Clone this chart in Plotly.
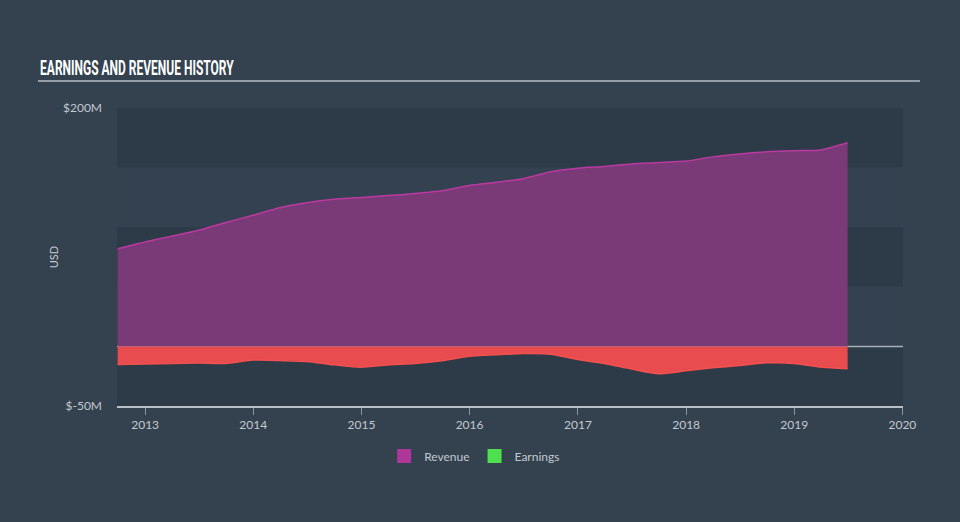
import plotly.graph_objects as go

dates = ["2012-09-30", "2012-12-31", "2013-03-31", "2013-06-30", "2013-09-30", "2013-12-31",
         "2014-03-31", "2014-06-30", "2014-09-30", "2014-12-31", "2015-03-31", "2015-06-30",
         "2015-09-30", "2015-12-31", "2016-03-31", "2016-06-30", "2016-09-30", "2016-12-31",
         "2017-03-31", "2017-06-30", "2017-09-30", "2017-12-31", "2018-03-31", "2018-06-30",
         "2018-09-30", "2018-12-31", "2019-03-31", "2019-06-30"]
revenue = [81.9, 87.6, 92.5, 97.5, 104.0, 110.0, 116.3, 120.5, 123.4, 125.0, 126.5, 128.2,
           130.5, 135.0, 137.7, 140.7, 146.5, 149.5, 151.0, 153.0, 154.2, 155.5, 159.0, 161.5,
           163.3, 164.2, 164.8, 170.8]
earnings = [-15.2, -14.8, -14.3, -14.0, -14.3, -11.5, -11.9, -12.6, -15.4, -17.4, -15.5, -14.4,
            -12.0, -8.2, -7.0, -6.0, -6.5, -11.0, -14.4, -19.0, -23.0, -20.5, -18.0, -16.0,
            -13.8, -14.3, -17.3, -18.8]
y_tick_vals = [-50, 200]
y_tick_text = ["$-50M", "$200M"]
x_tick_vals = ["2013-01-01", "2014-01-01", "2015-01-01", "2016-01-01", "2017-01-01",
               "2018-01-01", "2019-01-01", "2020-01-01"]
x_tick_text = ["2013", "2014", "2015", "2016", "2017", "2018", "2019", "2020"]

FONT = "Lato, 'Open Sans', sans-serif"
LABEL = "#c3c9d0"

fig = go.Figure()

fig.add_trace(go.Scatter(x=dates, y=revenue, mode="lines", line=dict(color="#b93aa0", width=1.5, shape="spline", smoothing=0.6),
                         fill="tozeroy", fillcolor="#7a3977", showlegend=False, hoverinfo="skip"))
fig.add_trace(go.Scatter(x=dates, y=earnings, mode="lines", line=dict(color="#f2504f", width=1.5, shape="spline", smoothing=0.6),
                         fill="tozeroy", fillcolor="#e84c4f", showlegend=False, hoverinfo="skip"))
# legend entries
fig.add_trace(go.Scatter(x=[None], y=[None], mode="markers", name="Revenue",
                         marker=dict(symbol="square", size=14, color="#b0369a")))
fig.add_trace(go.Scatter(x=[None], y=[None], mode="markers", name="Earnings",
                         marker=dict(symbol="square", size=14, color="#4ee04e")))

shapes = []
band_colors = ["#2d3a48", "#334150", "#2d3a48", "#334150", "#2d3a48"]
band_edges = [200, 150, 100, 50, 0, -50]
for i, c in enumerate(band_colors):
    shapes.append(dict(type="rect", xref="paper", yref="y", x0=0, x1=1,
                       y0=band_edges[i + 1], y1=band_edges[i], fillcolor=c, line=dict(width=0), layer="below"))
shapes.append(dict(type="line", xref="paper", yref="y", x0=0, x1=1, y0=0, y1=0,
                   line=dict(color="#a9b0b8", width=1.5), layer="below"))
# title underline
shapes.append(dict(type="line", xref="paper", yref="paper", x0=-0.1005, x1=1.0216, y0=1.0906, y1=1.0906,
                   line=dict(color="#b5bbc2", width=1.5)))

fig.update_layout(
    width=960, height=522,
    margin=dict(l=117, r=57, t=108, b=116),
    paper_bgcolor="#34414f", plot_bgcolor="rgba(0,0,0,0)",
    font=dict(family=FONT, color=LABEL, size=12),
    shapes=shapes,
    showlegend=True,
    legend=dict(orientation="h", x=0.455, xanchor="center", y=-0.168, yanchor="middle",
                font=dict(size=12, color=LABEL), bgcolor="rgba(0,0,0,0)", itemwidth=30),
    annotations=[dict(text="<b>EARNINGS AND REVENUE HISTORY</b>", xref="paper", yref="paper",
                      x=-0.1005, y=1.134, xanchor="left", yanchor="middle", showarrow=False,
                      font=dict(family="Roboto, sans-serif", size=20, color="#ffffff"))],
    xaxis=dict(type="date", range=["2012-09-28", "2020-01-03"], tickvals=x_tick_vals, ticktext=x_tick_text,
               showgrid=False, zeroline=False, showline=True, linecolor="#b8bfc7", linewidth=1.5,
               ticks="outside", ticklen=7, tickcolor="#8a95a0", tickfont=dict(size=12, color=LABEL)),
    yaxis=dict(range=[-50, 200], tickvals=y_tick_vals, ticktext=y_tick_text, showgrid=False, zeroline=False,
               showline=False, ticks="", ticklabelstandoff=14, tickfont=dict(size=12, color=LABEL),
               title=dict(text="USD", font=dict(size=11, color=LABEL), standoff=2)),
)

post = """
document.body.style.margin='0';
document.body.style.overflow='hidden';
var t = document.querySelectorAll('.annotation-text');
t.forEach(function(el){
  el.style.transformBox='fill-box';
  el.style.transformOrigin='left center';
  el.style.transform='scaleX(0.6)';
});
"""

fig.write_html("out.html", post_script=post, config={"displayModeBar": False})
